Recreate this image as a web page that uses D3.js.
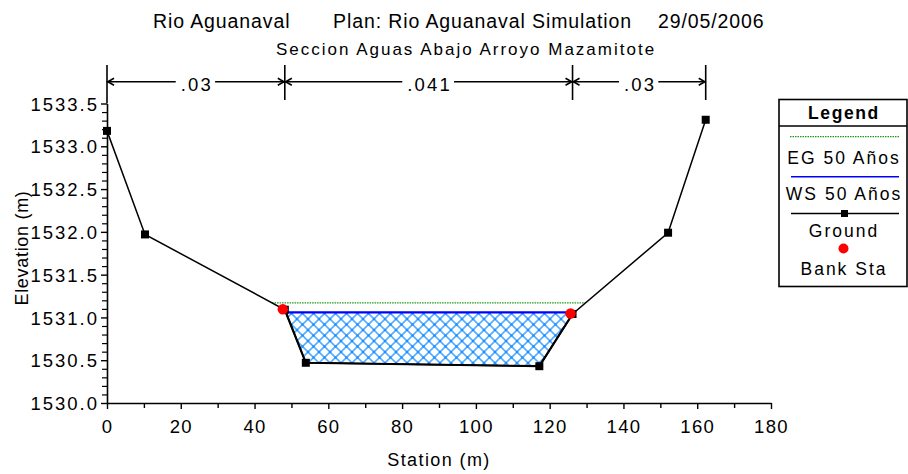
<!DOCTYPE html>
<html>
<head>
<meta charset="utf-8">
<script src="https://cdn.jsdelivr.net/npm/d3@7"></script>
<style>
  html, body { margin: 0; padding: 0; background: #fff; }
  svg { display: block; font-family: "Liberation Sans", Arial, sans-serif; }
</style>
</head>
<body>
<script>
// Cross section data
const groundStation = [0, 10.3, 48.2, 53.9, 117.2, 126.2, 152.1, 162.3];
const groundElev = [1533.18, 1531.97, 1531.09, 1530.47, 1530.43, 1531.04, 1531.99, 1533.31];
const bankStation = [48.2, 126.2];
const wsElev = 1531.06;   // WS 50 Años
const egElev = 1531.17;   // EG 50 Años
const nBreaks = [0, 48.2, 126.2, 162.3];
const nLabels = ['.03', '.041', '.03'];
const xTicks = [0, 20, 40, 60, 80, 100, 120, 140, 160, 180];
const xMinor = [10, 30, 50, 70, 90, 110, 130, 150, 170];
const yTicks = [1530.0, 1530.5, 1531.0, 1531.5, 1532.0, 1532.5, 1533.0, 1533.5];
const legendItems = ['EG 50 Años', 'WS 50 Años', 'Ground', 'Bank Sta'];

const W = 908, H = 474;
const svg = d3.select('body').append('svg')
  .attr('width', W).attr('height', H)
  .attr('xmlns', 'http://www.w3.org/2000/svg');

const x = d3.scaleLinear().domain([0, 180]).range([107, 771]);
const y = d3.scaleLinear().domain([1530, 1533.5]).range([403, 103.5]);

const ground = groundStation.map((s, i) => ({ s, e: groundElev[i] }));

// station where a horizontal level crosses the ground, searching from a side
function crossing(level, fromLeft) {
  const pts = fromLeft ? ground : ground.slice().reverse();
  for (let i = 0; i < pts.length - 1; i++) {
    const a = pts[i], b = pts[i + 1];
    if ((a.e - level) * (b.e - level) <= 0 && a.e !== b.e) {
      const t = (a.e - level) / (a.e - b.e);
      return { s: a.s + t * (b.s - a.s), i };
    }
  }
  return null;
}
function groundAt(s) {
  for (let i = 0; i < ground.length - 1; i++) {
    if (s >= ground[i].s && s <= ground[i + 1].s) {
      const t = (s - ground[i].s) / (ground[i + 1].s - ground[i].s);
      return ground[i].e + t * (ground[i + 1].e - ground[i].e);
    }
  }
  return ground[ground.length - 1].e;
}

// hatch pattern for the water
const defs = svg.append('defs');
const pat = defs.append('pattern')
  .attr('id', 'hatch').attr('patternUnits', 'userSpaceOnUse')
  .attr('width', 11).attr('height', 11);
pat.append('path')
  .attr('d', 'M0,0 L11,11 M0,11 L11,0')
  .attr('stroke', '#55aeff').attr('stroke-width', 1.6).attr('fill', 'none');
[[0, 0], [11, 0], [0, 11], [11, 11], [5.5, 5.5]].forEach(([cx, cy]) => {
  pat.append('circle').attr('cx', cx).attr('cy', cy).attr('r', 1.3).attr('fill', '#1f90ff');
});

// titles
const title = svg.append('g').style('font-size', '19.5px').style('letter-spacing', '0.9px').attr('fill', '#000');
title.append('text').attr('x', 153).attr('y', 28).text('Rio Aguanaval');
title.append('text').attr('x', 333).attr('y', 28).text('Plan: Rio Aguanaval Simulation');
title.append('text').attr('x', 658).attr('y', 28).text('29/05/2006');
svg.append('text')
  .attr('x', 466).attr('y', 54.5)
  .attr('text-anchor', 'middle')
  .style('font-size', '17px').style('letter-spacing', '2px')
  .text('Seccion Aguas Abajo Arroyo Mazamitote');

// water fill
const wl = crossing(wsElev, true), wr = crossing(wsElev, false);
const inner = ground.filter(p => p.s > wl.s && p.s < wr.s);
const waterPts = [{ s: wl.s, e: wsElev }, ...inner, { s: wr.s, e: wsElev }];
svg.append('path')
  .attr('d', d3.line().x(p => x(p.s)).y(p => y(p.e))(waterPts) + 'Z')
  .attr('fill', 'url(#hatch)');

// EG line
const el = crossing(egElev, true), er = crossing(egElev, false);
svg.append('line')
  .attr('x1', x(el.s)).attr('x2', x(er.s))
  .attr('y1', y(egElev)).attr('y2', y(egElev))
  .attr('stroke', '#1a9a1a').attr('stroke-width', 1.2)
  .attr('stroke-dasharray', '1.5,1');

// WS line
svg.append('line')
  .attr('x1', x(wl.s)).attr('x2', x(wr.s))
  .attr('y1', y(wsElev)).attr('y2', y(wsElev))
  .attr('stroke', '#0000ff').attr('stroke-width', 2.2);

// ground
svg.append('path')
  .attr('d', d3.line().x(p => x(p.s)).y(p => y(p.e))(ground))
  .attr('fill', 'none').attr('stroke', '#000').attr('stroke-width', 1.5);
svg.append('path')
  .attr('d', d3.line().x(p => x(p.s)).y(p => y(p.e))(ground.slice(2, 6)))
  .attr('fill', 'none').attr('stroke', '#000').attr('stroke-width', 2.2);
svg.selectAll('rect.gpt').data(ground).enter().append('rect')
  .attr('class', 'gpt')
  .attr('x', p => x(p.s) - 4).attr('y', p => y(p.e) - 4)
  .attr('width', 8).attr('height', 8).attr('fill', '#000');

// bank stations
svg.selectAll('circle.bank').data(bankStation).enter().append('circle')
  .attr('class', 'bank')
  .attr('cx', s => x(s) - 2).attr('cy', s => y(groundAt(s)) - 0.5)
  .attr('r', 5.2).attr('fill', '#ff0000');

// axes
const fontAxis = g => g.attr('font-family', null).attr('font-size', null);
const xAxis = svg.append('g').attr('transform', `translate(0,${y(1530)})`)
  .call(d3.axisBottom(x).tickValues(xTicks).tickSize(6).tickSizeOuter(0).tickPadding(11)
    .tickFormat(d3.format('d')))
  .call(fontAxis);
xAxis.select('.domain').attr('stroke-width', 1.6);
xAxis.selectAll('.tick line').attr('stroke-width', 1.4);
xAxis.selectAll('.tick text').style('font-size', '18.5px').style('letter-spacing', '1.3px')
  .attr('fill', '#000');
svg.append('g').attr('transform', `translate(0,${y(1530)})`)
  .call(d3.axisBottom(x).tickValues(xMinor).tickSize(5).tickSizeOuter(0).tickFormat(''))
  .call(g => g.select('.domain').remove())
  .selectAll('.tick line').attr('stroke-width', 1.4);

const yMinor = d3.range(0, 36).map(i => 1530 + i * 0.1).filter((v, i) => i % 5 !== 0);
const yAxis = svg.append('g').attr('transform', `translate(${x(0)},0)`)
  .call(d3.axisLeft(y).tickValues(yTicks).tickSize(6).tickSizeOuter(0).tickPadding(2)
    .tickFormat(d3.format('.1f')))
  .call(fontAxis);
yAxis.select('.domain').attr('stroke-width', 1.6);
yAxis.selectAll('.tick line').attr('stroke-width', 1.4);
yAxis.selectAll('.tick text').style('font-size', '18.5px').style('letter-spacing', '2px')
  .attr('fill', '#000').attr('dy', '0.36em');
svg.append('g').attr('transform', `translate(${x(0)},0)`)
  .call(d3.axisLeft(y).tickValues(yMinor).tickSize(5).tickSizeOuter(0).tickFormat(''))
  .call(g => g.select('.domain').remove())
  .selectAll('.tick line').attr('stroke-width', 1.2);

// axis titles
svg.append('text')
  .attr('x', 439).attr('y', 466).attr('text-anchor', 'middle')
  .style('font-size', '18px').style('letter-spacing', '1.4px')
  .text('Station (m)');
svg.append('text')
  .attr('transform', 'translate(28,248) rotate(-90)').attr('text-anchor', 'middle')
  .style('font-size', '18px').style('letter-spacing', '0.7px')
  .text('Elevation (m)');

// Manning's n brackets
const bTop = 65, bBot = 100, bY = 81.7;
const br = svg.append('g').attr('stroke', '#000').attr('fill', 'none');
br.selectAll('line.v').data(nBreaks).enter().append('line')
  .attr('x1', d => x(d)).attr('x2', d => x(d))
  .attr('y1', bTop).attr('y2', bBot).attr('stroke-width', 1.6);
br.append('line').attr('x1', x(0)).attr('x2', x(0)).attr('y1', bBot).attr('y2', y(1533.5))
  .attr('stroke-width', 1.6);
nLabels.forEach((lab, i) => {
  const a = x(nBreaks[i]), b = x(nBreaks[i + 1]);
  br.append('line').attr('x1', a).attr('x2', b).attr('y1', bY).attr('y2', bY).attr('stroke-width', 1.5);
  br.append('path').attr('d', `M${a + 7},${bY - 3.5}L${a + 0.8},${bY}L${a + 7},${bY + 3.5}`).attr('stroke-width', 1.6);
  br.append('path').attr('d', `M${b - 7},${bY - 3.5}L${b - 0.8},${bY}L${b - 7},${bY + 3.5}`).attr('stroke-width', 1.6);
  const t = svg.append('text')
    .attr('x', (a + b) / 2 + 1).attr('y', 90.5).attr('text-anchor', 'middle')
    .style('font-size', '18.5px').style('letter-spacing', '2.2px')
    .text(lab);
  const bb = t.node().getBBox();
  svg.insert('rect', () => t.node())
    .attr('x', bb.x - 5).attr('y', bY - 3).attr('width', bb.width + 7).attr('height', 6)
    .attr('fill', '#fff');
});

// legend
const lg = svg.append('g');
const lx = 779, lw = 128, lcx = 843;
lg.append('rect').attr('x', lx).attr('y', 99.5).attr('width', lw).attr('height', 187)
  .attr('fill', '#fff').attr('stroke', '#000').attr('stroke-width', 1.6);
lg.append('line').attr('x1', lx).attr('x2', lx + lw).attr('y1', 126).attr('y2', 126)
  .attr('stroke', '#000').attr('stroke-width', 1.4);
lg.append('text').attr('x', lcx + 1).attr('y', 118.5).attr('text-anchor', 'middle')
  .style('font-size', '17.5px').style('font-weight', 'bold').style('letter-spacing', '1.6px')
  .text('Legend');
const textY = [164, 200, 236.5, 275];
lg.selectAll('text.item').data(legendItems).enter().append('text')
  .attr('class', 'item')
  .attr('x', lcx + 1).attr('y', (d, i) => textY[i]).attr('text-anchor', 'middle')
  .style('font-size', '17.5px').style('letter-spacing', '2px')
  .text(d => d);
lg.append('line').attr('x1', 790).attr('x2', 899).attr('y1', 136.7).attr('y2', 136.7)
  .attr('stroke', '#1a9a1a').attr('stroke-width', 1.2).attr('stroke-dasharray', '1.5,1');
lg.append('line').attr('x1', 791).attr('x2', 899).attr('y1', 176.7).attr('y2', 176.7)
  .attr('stroke', '#0000ff').attr('stroke-width', 1.6);
lg.append('line').attr('x1', 791).attr('x2', 899).attr('y1', 213.5).attr('y2', 213.5)
  .attr('stroke', '#000').attr('stroke-width', 1.5);
lg.append('rect').attr('x', 841).attr('y', 210).attr('width', 7).attr('height', 7).attr('fill', '#000');
lg.append('circle').attr('cx', 843.5).attr('cy', 248.5).attr('r', 5).attr('fill', '#ff0000');
</script>
</body>
</html>
